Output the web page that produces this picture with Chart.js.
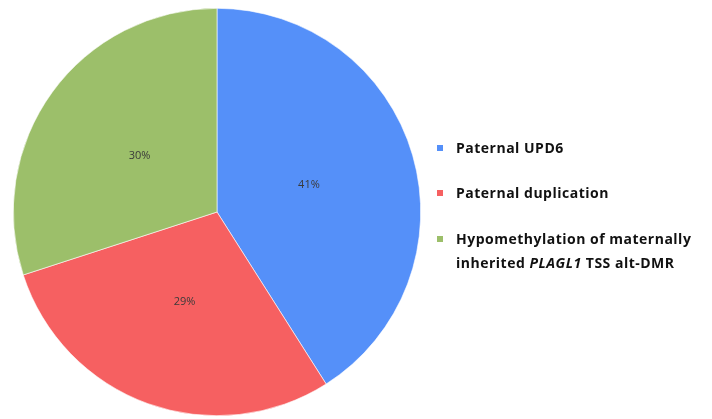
<!DOCTYPE html>
<html>
<head>
<meta charset="utf-8">
<script src="https://cdn.jsdelivr.net/npm/chart.js@4/dist/chart.umd.min.js"></script>
<style>
html,body{margin:0;padding:0;background:#fff;}
#wrap{position:relative;width:712px;height:419px;}
#legend{position:absolute;left:436px;top:0;width:276px;font-family:"Open Sans","Noto Sans",sans-serif;font-weight:bold;font-size:14px;letter-spacing:0.5px;color:#111;}
.item{position:absolute;left:0;line-height:24px;}
.mk{position:absolute;left:1px;width:6px;height:6px;top:9px;}
.tx{margin-left:20px;white-space:nowrap;}
</style>
</head>
<body>
<div id="wrap">
<canvas id="c" width="712" height="419"></canvas>
<div id="legend"></div>
</div>
<script>
const categories = ["Paternal UPD6", "Paternal duplication", "Hypomethylation of maternally inherited PLAGL1 TSS alt-DMR"];
const values = [41, 29, 30];
const pctLabels = ["41%", "29%", "30%"];
const colors = ["#5590F9", "#F66061", "#9CBF6A"];
const legendLines = [["Paternal UPD6"], ["Paternal duplication"], ["Hypomethylation of maternally", "inherited <i>PLAGL1</i> TSS alt-DMR"]];
const legendTops = [136, 181, 227];

const labelPlugin = {
  id: 'pctLabels',
  afterDatasetsDraw(chart) {
    const ctx = chart.ctx;
    const meta = chart.getDatasetMeta(0);
    ctx.save();
    ctx.font = '11px "Open Sans", sans-serif';
    ctx.fillStyle = '#3a3a3a';
    ctx.textAlign = 'center';
    ctx.textBaseline = 'middle';
    meta.data.forEach((arc, i) => {
      const mid = (arc.startAngle + arc.endAngle) / 2;
      const r = arc.outerRadius * 0.47;
      ctx.fillText(pctLabels[i], arc.x + Math.cos(mid) * r, arc.y + Math.sin(mid) * r);
    });
    ctx.restore();
  }
};

new Chart(document.getElementById('c'), {
  type: 'pie',
  data: {
    labels: categories,
    datasets: [{
      data: values,
      backgroundColor: colors,
      borderColor: '#ffffff',
      borderWidth: 0.6
    }]
  },
  options: {
    responsive: false,
    animation: false,
    layout: { padding: { left: 13, right: 291, top: 8, bottom: 3 } },
    plugins: { legend: { display: false }, tooltip: { enabled: false } }
  },
  plugins: [labelPlugin]
});

const lg = document.getElementById('legend');
categories.forEach((c, i) => {
  const d = document.createElement('div');
  d.className = 'item';
  d.style.top = legendTops[i] + 'px';
  d.innerHTML = '<span class="mk" style="background:' + colors[i] + '"></span><div class="tx">' + legendLines[i].join('<br>') + '</div>';
  lg.appendChild(d);
});
</script>
</body>
</html>
